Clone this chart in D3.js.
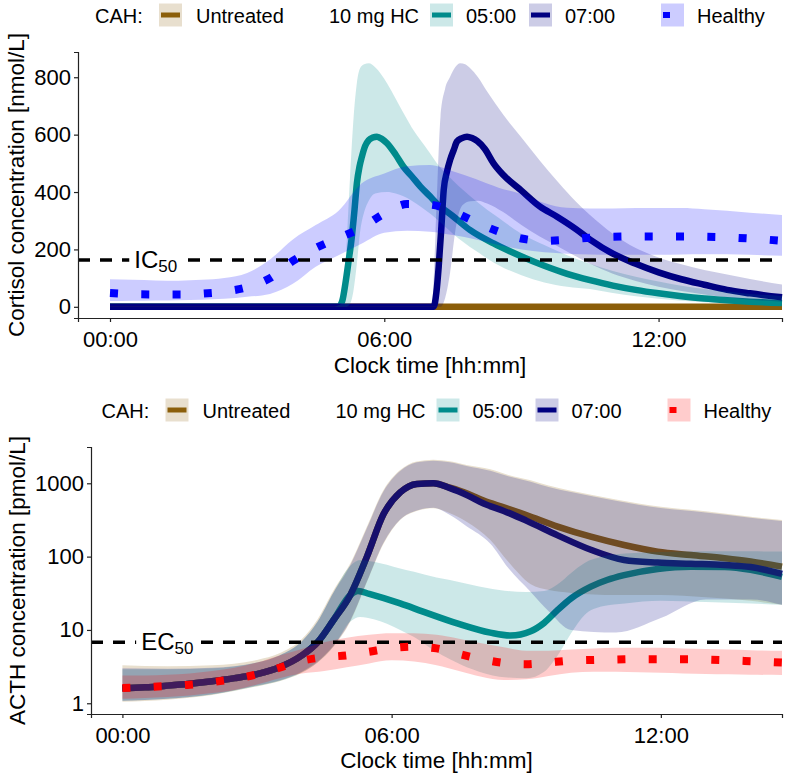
<!DOCTYPE html>
<html><head><meta charset="utf-8">
<script src="https://cdn.jsdelivr.net/npm/d3@7"></script>
<style>
body{margin:0;background:#fff}
svg{display:block}
text{font-family:"Liberation Sans", Arial, Helvetica, sans-serif;fill:#000}
</style>
</head><body>
<svg id="c" width="787" height="777"></svg>
<script>
// ---------------- DATA ----------------
const legendLabels = ["CAH:", "Untreated", "10 mg HC", "05:00", "07:00", "Healthy"];
const xTicks = [0, 6, 12];
const xTickLabels = ["00:00", "06:00", "12:00"];
const cortTicks = [0, 200, 400, 600, 800];
const acthTicks = [1, 10, 100, 1000];
const IC50 = 163;
const EC50 = 6.8;

// Cortisol - healthy
const cortHealthyT = [0,0.5,1,1.5,2,2.5,3,3.5,4,4.5,5,5.5,6,6.5,7,7.5,8,8.5,9,9.5,10,10.5,11,11.5,12,12.5,13,13.5,14,14.7];
const cortHealthyMed = [48,44,43,43,46,53,68,100,160,205,240,275,325,358,356,332,295,262,238,230,234,241,244,245,245,245,244,242,238,230];
const cortHealthyLo = [20,21,22,23,25,28,35,45,80,140,180,220,258,265,262,250,235,215,200,190,185,182,181,181,181,182,183,183,181,178];
const cortHealthyHi = [96,94,92,91,94,100,118,165,235,285,335,430,465,490,494,472,445,415,393,362,345,343,343,344,344,344,340,335,328,320];

// Cortisol - CAH untreated
const cortUntrT = [0, 14.7];
const cortUntrMed = [0, 0];
const cortUntrLo = [0, 0];
const cortUntrHi = [2, 2];

// Cortisol - 10 mg HC at 05:00
const cortHc5T = [0,4.9,5.0,5.08,5.15,5.22,5.29,5.35,5.4,5.46,5.51,5.58,5.66,5.75,5.84,5.95,6.06,6.25,6.42,6.6,6.79,7.0,7.15,7.5,7.88,8.39,8.98,9.5,10,10.5,11,11.5,12,12.5,13,13.5,14,14.7];
const cortHc5Med = [0,0,0,20,82,160,244,340,430,490,523,560,581,590,593,585,570,530,488,455,419,385,360,316,267,221,177,143,115,93,74,59,47,37,29,23,18,13];
const cortHc5BandT = [0,4.9,5.0,5.07,5.15,5.25,5.33,5.4,5.47,5.56,5.66,5.8,6.06,6.25,6.42,6.6,6.79,7.0,7.15,7.5,8.0,8.5,9.0,9.5,10,10.5,11,11.5,12,12.5,13,13.5,14,14.7];
const cortHc5Hi = [0,0,5,12,150,450,663,780,831,845,849,835,779,725,675,625,581,535,500,440,370,310,255,215,180,150,125,105,88,73,62,53,45,38];
const cortHc5Lo = [0,0,0,0,0,10,60,150,260,330,370,395,400,395,385,370,350,325,305,255,195,145,110,85,70,62,48,37,28,21,16,12,9,7];

// Cortisol - 10 mg HC at 07:00
const cortHc7T = [0,7.0,7.08,7.14,7.19,7.25,7.3,7.37,7.44,7.52,7.59,7.7,7.81,7.92,8.03,8.2,8.39,8.6,9.0,9.4,9.78,10.2,10.51,11,11.5,12,12.5,13,13.5,14,14.7];
const cortHc7Med = [0,0,0,50,140,280,407,470,512,547,576,588,593,588,578,550,500,460,405,350,314,270,233,185,150,120,96,77,59,47,33];
const cortHc7BandT = [0,7.0,7.05,7.12,7.23,7.33,7.44,7.55,7.66,7.77,7.88,8.05,8.25,8.6,9.0,9.4,9.8,10.2,10.5,11,11.5,12,12.5,13,13.5,14,14.7];
const cortHc7Hi = [0,0,20,250,663,760,802,835,849,845,831,800,750,670,590,510,435,365,320,255,205,172,148,128,113,97,78];
const cortHc7Lo = [0,0,0,0,0,30,120,260,340,362,368,370,360,330,285,245,210,175,150,115,90,70,55,43,33,25,18];

// ACTH - healthy
const acthHealthyT = [0,0.5,1,1.5,2,2.5,3,3.5,4,4.5,5,5.5,6,6.5,7,7.5,8,8.5,9,9.5,10,10.5,11,11.5,12,12.5,13,13.5,14,14.7];
const acthHealthyMed = [1.62,1.66,1.72,1.79,1.94,2.15,2.48,3.05,3.8,4.25,4.5,5.05,5.65,5.9,5.6,4.7,4.0,3.55,3.4,3.6,3.82,3.9,3.95,4.0,4.0,4.0,3.93,3.85,3.75,3.6];
const acthHealthyHi = [2.4,2.4,2.45,2.55,2.75,3.05,3.6,4.5,5.5,6.8,7.8,8.6,9.0,9.0,8.6,7.6,6.6,5.8,5.2,5.2,5.4,5.6,5.7,5.7,5.7,5.6,5.5,5.4,5.3,5.2];
const acthHealthyLo = [1.15,1.18,1.22,1.28,1.38,1.52,1.8,2.2,2.55,2.75,3.1,3.5,3.85,3.7,3.3,2.75,2.3,2.08,2.12,2.35,2.6,2.7,2.7,2.65,2.6,2.55,2.5,2.48,2.45,2.43];

// ACTH - CAH medians
const acthCahT = [0,0.5,1,1.5,2,2.5,3,3.5,4,4.35,4.7,5.08,5.45,5.82,6.19,6.56,6.93,7.3,7.7,8.05,8.5,9.0,9.7,10.44,11.18,11.93,12.67,13.42,14.0,14.7];
const acthUntrMed = [1.6,1.65,1.74,1.85,2.0,2.2,2.5,3.1,4.5,6.8,13.5,30,100,380,750,980,1000,870,720,580,470,370,257,187,144,117,105,95,86,73];
const acthHc7Med = [1.6,1.65,1.74,1.85,2.0,2.2,2.5,3.1,4.5,6.8,13.5,30,100,380,750,980,1000,860,680,530,420,310,195,124,90,83,80,77,72,58];
const acthHc5T = [0,0.5,1,1.5,2,2.5,3,3.5,4,4.35,4.7,5.08,5.25,5.5,6.19,6.7,7.46,8.2,8.65,9.1,9.4,9.69,10.0,10.44,10.8,11.18,11.93,12.67,13.42,14.0,14.7];
const acthHc5Med = [1.6,1.65,1.74,1.85,2.0,2.2,2.5,3.1,4.5,6.8,13.5,30,34,31,23,17.8,12.3,9.2,8.4,9.6,12.5,18.5,27,39,48,56,68,73,72,66,53];

// ACTH - CAH bands
const acthBandT = [0,1,2,3,3.5,4,4.35,4.71,5.08,5.45,5.82,6.19,6.56,6.93,7.3,7.67,8.2,8.6,9.1,9.5,10,11,12,13,14,14.7];
const acthUntrHi = [3.3,3.2,3.3,3.9,4.8,7.5,14,35,81,257,813,1520,1990,2090,2000,1780,1550,1300,1100,930,790,600,478,415,350,316];
const acthUntrLo = [1.05,1.12,1.3,1.7,2.0,2.6,3.6,6,13,45,150,316,420,457,390,300,169,85,42,35,32,30,30,28,25,22];
const acthHc7Hi = [3.0,2.95,3.05,3.6,4.5,7.0,13,33,77,245,780,1470,1930,2030,1940,1720,1480,1250,1050,890,760,580,460,400,340,305];
const acthHc7Lo = [1.08,1.15,1.33,1.75,2.05,2.7,3.7,6.2,13.5,46,155,320,425,465,370,260,150,70,33,18,10,9.2,14.5,26,26,22];
const acthHc5BandT = [0,1,2,3,3.5,4,4.35,4.71,5.08,5.3,5.6,6.19,6.5,7.0,7.3,7.8,8.4,9.0,9.4,9.7,10.0,10.3,10.7,11.2,12,13,14,14.7];
const acthHc5Hi = [2.9,2.9,3.0,3.6,4.5,7.0,13,33,75,90,85,69,62,52,48,41,35,33,34,42,60,82,100,110,116,118,118,117];
const acthHc5Lo = [1.08,1.15,1.32,1.72,2.02,2.65,3.6,6,13,15,14,10,8,5.0,4.0,2.9,2.3,2.2,2.7,4.5,9,16,21,23,25,24,23,22];

// ---------------- STYLE ----------------
const COL = {untr: "#8B5E0A", hc5: "#008B8B", hc7: "#000080"};
const svg = d3.select("#c");

function drawLegend(top, dx, healthyCol) {
  const g = svg.append("g").attr("transform", `translate(${dx},${top})`);
  const base = 19.2;
  const textPos = [95, 196, 329, 466, 565, 697];
  legendLabels.forEach((t, i) => {
    g.append("text").attr("x", textPos[i]).attr("y", base).style("font-size", "20px").text(t);
  });
  const keys = [[159, COL.untr], [430, COL.hc5], [529, COL.hc7]];
  keys.forEach(([kx, c]) => {
    g.append("rect").attr("x", kx).attr("y", 0).attr("width", 23).attr("height", 23)
      .attr("fill", c).attr("fill-opacity", 0.2);
    g.append("line").attr("x1", kx + 2).attr("x2", kx + 21).attr("y1", 11.5).attr("y2", 11.5)
      .attr("stroke", c).attr("stroke-width", 5);
  });
  g.append("rect").attr("x", 661).attr("y", 0).attr("width", 23).attr("height", 23)
    .attr("fill", healthyCol).attr("fill-opacity", 0.2);
  g.append("line").attr("x1", 663).attr("x2", 682).attr("y1", 11.5).attr("y2", 11.5)
    .attr("stroke", healthyCol).attr("stroke-width", 6).attr("stroke-dasharray", "7,30");
}

function drawPanel(o) {
  const g = svg.append("g");
  const x = d3.scaleLinear().domain([-0.7, 14.7]).range([o.left, 782]);
  const y = o.log ? d3.scaleLog().domain(o.yDomain).range([o.bottom, o.top])
                  : d3.scaleLinear().domain(o.yDomain).range([o.bottom, o.top]);
  const lineGen = (t) => d3.line().x((d, i) => x(t[i])).y(d => y(d)).curve(d3.curveMonotoneX);
  const areaGen = (t, lo) => d3.area().x((d, i) => x(t[i])).y0((d, i) => y(lo[i])).y1(d => y(d)).curve(d3.curveMonotoneX);

  // median lines (CAH)
  o.lines.forEach(s => {
    g.append("path").attr("d", lineGen(s.t)(s.v)).attr("fill", "none")
      .attr("stroke", s.c).attr("stroke-width", 6.5).attr("stroke-linejoin", "round");
  });
  // ribbons
  o.bands.forEach(b => {
    g.append("path").attr("d", areaGen(b.t, b.lo)(b.hi)).attr("fill", b.c).attr("fill-opacity", 0.2);
  });
  // threshold
  const ty = y(o.th);
  g.append("line").attr("x1", o.left).attr("x2", 782).attr("y1", ty).attr("y2", ty)
    .attr("stroke", "#000").attr("stroke-width", 3.5).attr("stroke-dasharray", "12,10");
  const lab = g.append("text").attr("x", x(1.0)).attr("y", ty + 8).attr("text-anchor", "middle").style("font-size", "24px");
  lab.append("tspan").text(o.thLabel[0]);
  lab.append("tspan").attr("dy", 4).style("font-size", "17px").text(o.thLabel[1]);
  const bb = lab.node().getBBox();
  g.insert("rect", "text").attr("x", bb.x - 5).attr("y", ty - 4).attr("width", bb.width + 10).attr("height", 8).attr("fill", "#fff");

  // healthy dotted line
  const h = o.healthy;
  g.append("path").attr("d", lineGen(h.t)(h.v)).attr("fill", "none")
    .attr("stroke", h.c).attr("stroke-width", 8).attr("stroke-dasharray", "8,23.3");

  // axes
  const ax = g.append("g").attr("transform", `translate(0,${o.bottom})`)
    .call(d3.axisBottom(x).tickValues(xTicks).tickFormat((d, i) => xTickLabels[i]).tickSizeOuter(0).tickSize(4).tickPadding(4));
  const ay = g.append("g").attr("transform", `translate(${o.left},0)`)
    .call(d3.axisLeft(y).tickValues(o.yTicks).tickFormat(d => String(d)).tickSizeOuter(0).tickSize(4).tickPadding(3));
  [ax, ay].forEach(a => {
    a.attr("font-family", null).attr("font-size", null);
    a.select(".domain").attr("stroke", "#222").attr("stroke-width", 1.2);
    a.selectAll(".tick line").attr("stroke", "#222").attr("stroke-width", 1.2);
    a.selectAll(".tick text").style("font-size", "22px").attr("fill", "#000");
  });
  ax.selectAll(".tick text").attr("dy", "0.95em");

  g.append("text").attr("x", (o.left + 782) / 2).attr("y", o.xTitleY).attr("text-anchor", "middle")
    .style("font-size", "22.5px").text("Clock time [hh:mm]");
  g.append("text").attr("transform", `translate(${o.yTitleX},${(o.top + o.bottom) / 2}) rotate(-90)`)
    .attr("text-anchor", "middle").style("font-size", "22.5px").text(o.yTitle);
}

drawLegend(3.5, 0, "#0000FF");
drawPanel({
  left: 78, top: 52, bottom: 318, log: false, yDomain: [-39, 888], yTicks: cortTicks,
  th: IC50, thLabel: ["IC", "50"], xTitleY: 373, yTitleX: 24,
  yTitle: "Cortisol concentration [nmol/L]",
  lines: [
    {t: cortUntrT, v: cortUntrMed, c: COL.untr},
    {t: cortHc5T, v: cortHc5Med, c: COL.hc5},
    {t: cortHc7T, v: cortHc7Med, c: COL.hc7}
  ],
  bands: [
    {t: cortUntrT, lo: cortUntrLo, hi: cortUntrHi, c: COL.untr},
    {t: cortHc5BandT, lo: cortHc5Lo, hi: cortHc5Hi, c: COL.hc5},
    {t: cortHc7BandT, lo: cortHc7Lo, hi: cortHc7Hi, c: COL.hc7},
    {t: cortHealthyT, lo: cortHealthyLo, hi: cortHealthyHi, c: "#0000FF"}
  ],
  healthy: {t: cortHealthyT, v: cortHealthyMed, c: "#0000FF"}
});

drawLegend(398.5, 6.5, "#FF0000");
drawPanel({
  left: 91, top: 447, bottom: 714, log: true, yDomain: [0.714, 3126], yTicks: acthTicks,
  th: EC50, thLabel: ["EC", "50"], xTitleY: 768, yTitleX: 25,
  yTitle: "ACTH concentration [pmol/L]",
  lines: [
    {t: acthCahT, v: acthUntrMed, c: COL.untr},
    {t: acthHc5T, v: acthHc5Med, c: COL.hc5},
    {t: acthCahT, v: acthHc7Med, c: COL.hc7}
  ],
  bands: [
    {t: acthBandT, lo: acthUntrLo, hi: acthUntrHi, c: COL.untr},
    {t: acthHc5BandT, lo: acthHc5Lo, hi: acthHc5Hi, c: COL.hc5},
    {t: acthBandT, lo: acthHc7Lo, hi: acthHc7Hi, c: COL.hc7},
    {t: acthHealthyT, lo: acthHealthyLo, hi: acthHealthyHi, c: "#FF0000"}
  ],
  healthy: {t: acthHealthyT, v: acthHealthyMed, c: "#FF0000"}
});
</script>
</body></html>
